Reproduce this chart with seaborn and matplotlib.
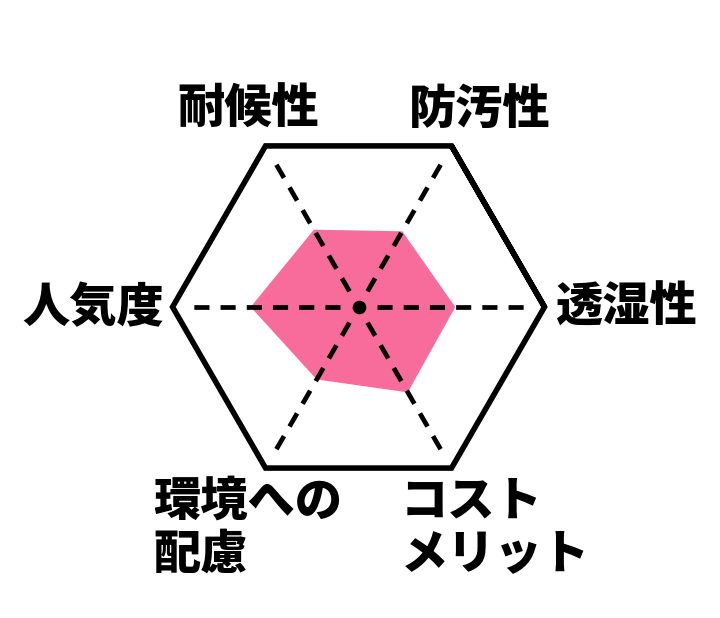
import numpy as np
import pandas as pd
import matplotlib
matplotlib.use("Agg")
import matplotlib.pyplot as plt
import seaborn as sns

# axis names, counter-clockwise from the right
categories = ["透湿性", "防汚性", "耐候性", "人気度", "環境への\n配慮", "コスト\nメリット"]
# scores out of 10
scores = [5.2, 4.7, 4.8, 5.8, 4.5, 5.3]
max_score = 10
angles_deg = [0, 60, 120, 180, 240, 300]

# label anchors (figure fraction) and alignment
label_pos = [(0.870, 0.502), (0.667, 0.823), (0.345, 0.823), (0.130, 0.502),
             (0.213, 0.146), (0.557, 0.146)]
label_ha = ["center", "center", "center", "center", "left", "left"]

sns.set_theme(style="white")
plt.rcParams["font.family"] = ["Noto Sans CJK JP", "DejaVu Sans"]

theta = np.deg2rad(angles_deg)
df = pd.DataFrame({"theta": theta, "score": scores, "cat": categories})
closed = pd.concat([df, df.iloc[[0]]], ignore_index=True)

fig = plt.figure(figsize=(7.2, 6.18), dpi=100)
ax = fig.add_axes([0.2396, 0.2023, 0.5167, 0.6019], projection="polar")
ax.set_ylim(0, max_score)
ax.grid(False)
ax.set_xticks([])
ax.set_yticks([])
ax.spines["polar"].set_visible(False)
ax.set_facecolor("none")

# data polygon
ax.fill(closed["theta"], closed["score"], color="#F86C9B", lw=0, zorder=1)

# dashed spokes
for t in theta:
    ax.plot([t, t], [0.97, 0.9 * max_score], color="black", lw=3.4,
            dashes=(3.2, 2.35), dash_capstyle="butt", zorder=2)

# outer hexagon (wrap one extra vertex so every corner gets a join)
ring = pd.concat([df, df.iloc[[0, 1]]], ignore_index=True)
outer = pd.DataFrame({"theta": ring["theta"], "r": [max_score] * len(ring)})
sns.lineplot(data=outer, x="theta", y="r", sort=False, estimator=None,
             color="black", lw=4.0, ax=ax, zorder=3)
hexline = ax.lines[-1]
hexline.set_solid_joinstyle("miter")
hexline.set_solid_capstyle("butt")
hexline.set_clip_on(False)

# center dot
ax.plot([0], [0], "o", color="black", ms=8.8, zorder=4)
ax.set_xlabel("")
ax.set_ylabel("")

for (x, y), name, ha in zip(label_pos, categories, label_ha):
    fig.text(x, y, name, ha=ha, va="center", fontsize=34, fontweight="heavy",
             linespacing=1.1, color="black")

fig.savefig("out.png", dpi=100)
